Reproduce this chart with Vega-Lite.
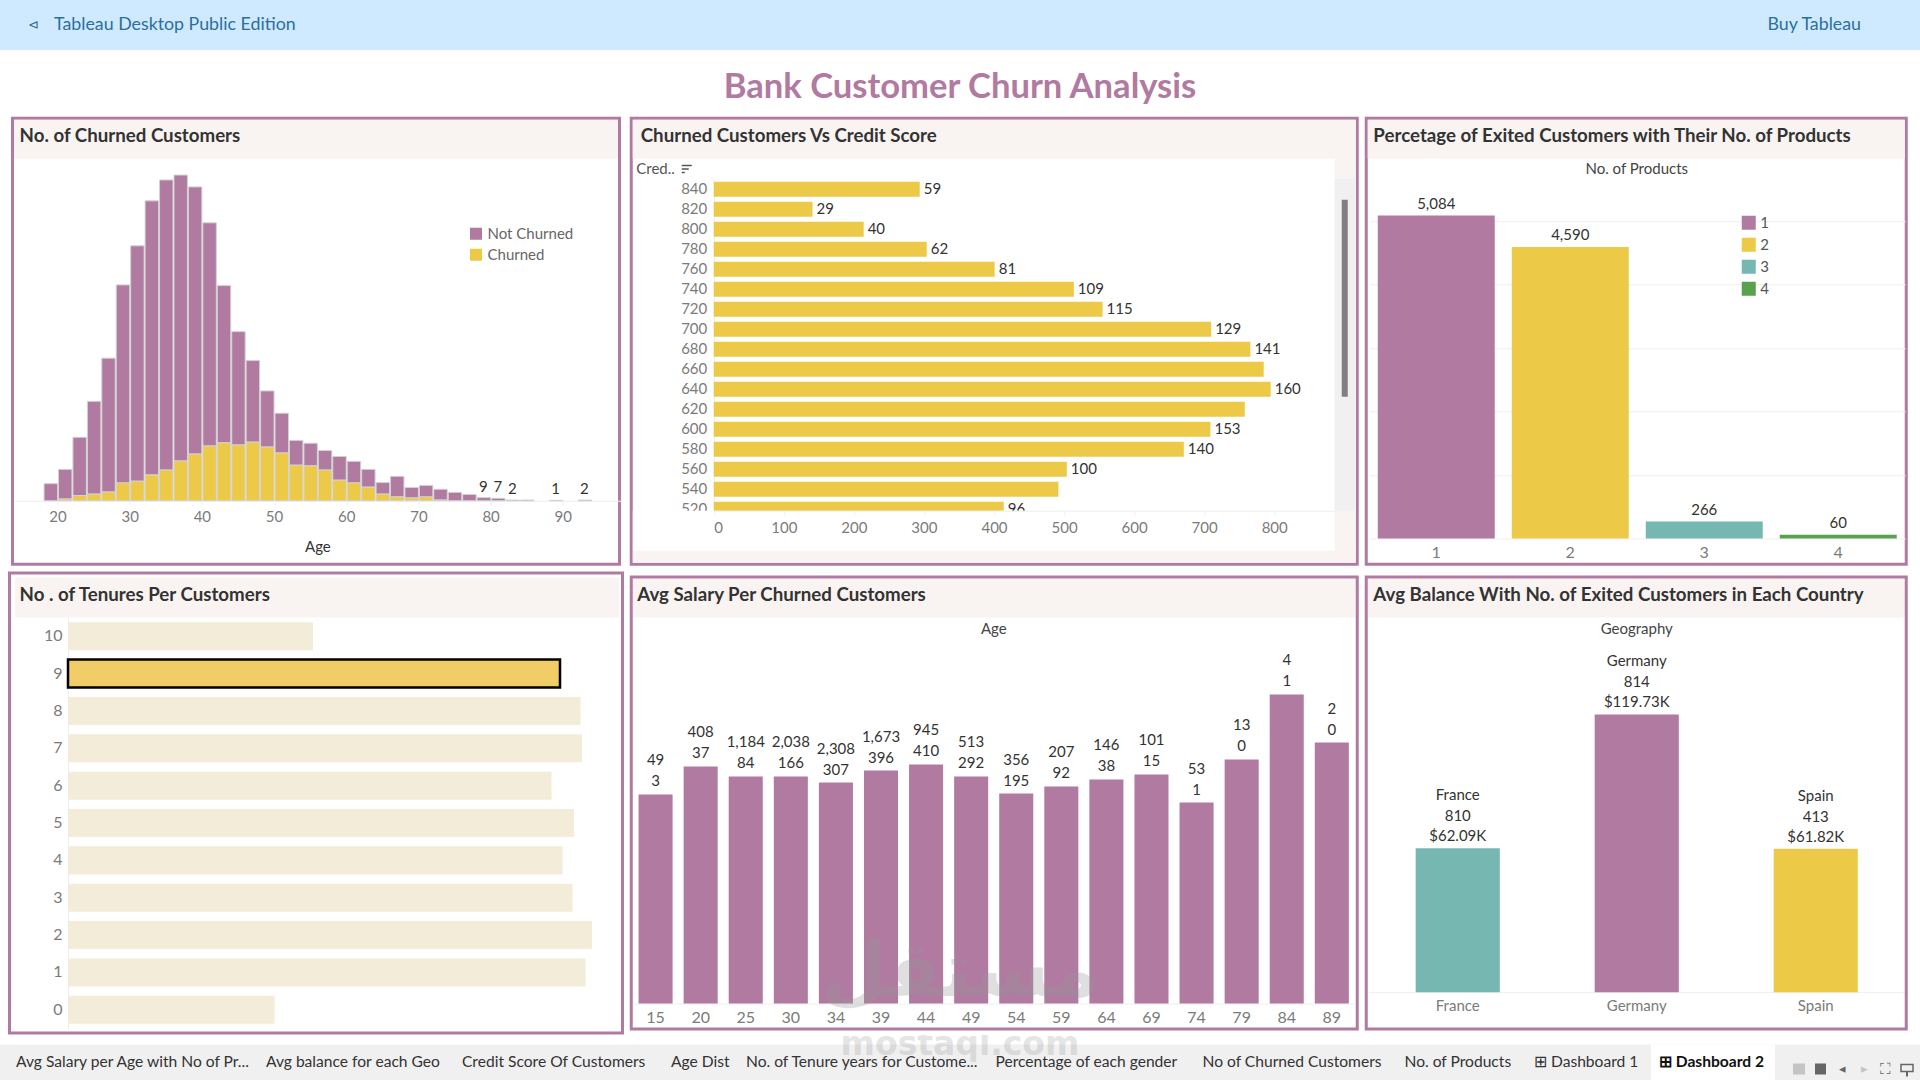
{"$schema":"https://vega.github.io/schema/vega-lite/v6.json","padding":{"left":-3.5,"top":0,"right":0,"bottom":0},"background":"white","spacing":0,"center":true,"resolve":{"scale":{"color":"independent"},"legend":{"color":"independent"}},
"config":{"font":"Lato","view":{"stroke":null},"axis":{"grid":false,"domainColor":"#eeeeee","tickColor":"#eeeeee","tickSize":4,"labelColor":"#7b7b7b","labelFontSize":15,"labelFontWeight":"normal","titleFontWeight":"normal","titleFontSize":15,"titleColor":"#333333","labelAngle":0},"text":{"fontSize":15,"color":"#333333"}},
"vconcat":[
{"width":1924,"height":115.5,"resolve":{"scale":{"x":"independent","y":"independent"}},"data":{"values":[{}]},
"layer":[
{"mark":{"type":"rect","color":"#cfe9ff"},"encoding":{"x":{"datum":-3.5,"type":"quantitative","scale":{"domain":[-3.5,1920.5],"range":[0,1924],"nice":false,"zero":false},"axis":null},"x2":{"datum":1920.5},"y":{"datum":0,"type":"quantitative","scale":{"domain":[0,115.5],"range":[0,115.5],"nice":false,"zero":false},"axis":null},"y2":{"datum":50}}},
{"mark":{"type":"text","text":"Tableau Desktop Public Edition","align":"left","baseline":"middle","fontSize":17.8,"color":"#2a6f9e"},"encoding":{"x":{"datum":54,"type":"quantitative","scale":{"domain":[-3.5,1920.5],"range":[0,1924],"nice":false,"zero":false},"axis":null},"y":{"datum":24.5,"type":"quantitative","scale":{"domain":[0,115.5],"range":[0,115.5],"nice":false,"zero":false},"axis":null}}},
{"mark":{"type":"text","text":"⊲","align":"center","baseline":"middle","fontSize":13,"color":"#2a6f9e"},"encoding":{"x":{"datum":33,"type":"quantitative","scale":{"domain":[-3.5,1920.5],"range":[0,1924],"nice":false,"zero":false},"axis":null},"y":{"datum":24.5,"type":"quantitative","scale":{"domain":[0,115.5],"range":[0,115.5],"nice":false,"zero":false},"axis":null}}},
{"mark":{"type":"text","text":"Buy Tableau","align":"right","baseline":"middle","fontSize":17.8,"color":"#2a6f9e"},"encoding":{"x":{"datum":1861,"type":"quantitative","scale":{"domain":[-3.5,1920.5],"range":[0,1924],"nice":false,"zero":false},"axis":null},"y":{"datum":24.5,"type":"quantitative","scale":{"domain":[0,115.5],"range":[0,115.5],"nice":false,"zero":false},"axis":null}}},
{"mark":{"type":"text","text":"Bank Customer Churn Analysis","align":"center","baseline":"middle","fontSize":34.6,"fontWeight":"bold","color":"#b07aa1"},"encoding":{"x":{"datum":960,"type":"quantitative","scale":{"domain":[-3.5,1920.5],"range":[0,1924],"nice":false,"zero":false},"axis":null},"y":{"datum":88,"type":"quantitative","scale":{"domain":[0,115.5],"range":[0,115.5],"nice":false,"zero":false},"axis":null}}}
]},
{"columns":3,"spacing":5,"center":true,"resolve":{"scale":{"color":"independent"},"legend":{"color":"independent"}},"concat":[
{"width":607,"height":446,"view":{"stroke":"#b07aa1","strokeWidth":3,"fill":"white"},"resolve":{"scale":{"x":"independent","y":"independent"}},"layer":[
{"layer":[
{"data":{"values":[
{"age":18,"age_end":20,"status":"Not Churned","customers":49},
{"age":20,"age_end":22,"status":"Not Churned","customers":85},{"age":20,"age_end":22,"status":"Churned","customers":5},
{"age":22,"age_end":24,"status":"Not Churned","customers":167},{"age":22,"age_end":24,"status":"Churned","customers":15},
{"age":24,"age_end":26,"status":"Not Churned","customers":266},{"age":24,"age_end":26,"status":"Churned","customers":19},
{"age":26,"age_end":28,"status":"Not Churned","customers":384},{"age":26,"age_end":28,"status":"Churned","customers":25},
{"age":28,"age_end":30,"status":"Not Churned","customers":568},{"age":28,"age_end":30,"status":"Churned","customers":51},
{"age":30,"age_end":32,"status":"Not Churned","customers":675},{"age":30,"age_end":32,"status":"Churned","customers":56},
{"age":32,"age_end":34,"status":"Not Churned","customers":786},{"age":32,"age_end":34,"status":"Churned","customers":74},
{"age":34,"age_end":36,"status":"Not Churned","customers":832},{"age":34,"age_end":36,"status":"Churned","customers":88},
{"age":36,"age_end":38,"status":"Not Churned","customers":820},{"age":36,"age_end":38,"status":"Churned","customers":114},
{"age":38,"age_end":40,"status":"Not Churned","customers":766},{"age":38,"age_end":40,"status":"Churned","customers":134},
{"age":40,"age_end":42,"status":"Not Churned","customers":640},{"age":40,"age_end":42,"status":"Churned","customers":157},
{"age":42,"age_end":44,"status":"Not Churned","customers":451},{"age":42,"age_end":44,"status":"Churned","customers":166},
{"age":44,"age_end":46,"status":"Not Churned","customers":325},{"age":44,"age_end":46,"status":"Churned","customers":160},
{"age":46,"age_end":48,"status":"Not Churned","customers":234},{"age":46,"age_end":48,"status":"Churned","customers":168},
{"age":48,"age_end":50,"status":"Not Churned","customers":161},{"age":48,"age_end":50,"status":"Churned","customers":154},
{"age":50,"age_end":52,"status":"Not Churned","customers":114},{"age":50,"age_end":52,"status":"Churned","customers":137},
{"age":52,"age_end":54,"status":"Not Churned","customers":71},{"age":52,"age_end":54,"status":"Churned","customers":102},
{"age":54,"age_end":56,"status":"Not Churned","customers":65},{"age":54,"age_end":56,"status":"Churned","customers":100},
{"age":56,"age_end":58,"status":"Not Churned","customers":56},{"age":56,"age_end":58,"status":"Churned","customers":88},
{"age":58,"age_end":60,"status":"Not Churned","customers":68},{"age":58,"age_end":60,"status":"Churned","customers":59},
{"age":60,"age_end":62,"status":"Not Churned","customers":62},{"age":60,"age_end":62,"status":"Churned","customers":51},
{"age":62,"age_end":64,"status":"Not Churned","customers":51},{"age":62,"age_end":64,"status":"Churned","customers":39},
{"age":64,"age_end":66,"status":"Not Churned","customers":33},{"age":64,"age_end":66,"status":"Churned","customers":19},
{"age":66,"age_end":68,"status":"Not Churned","customers":59},{"age":66,"age_end":68,"status":"Churned","customers":11},
{"age":68,"age_end":70,"status":"Not Churned","customers":30},{"age":68,"age_end":70,"status":"Churned","customers":8},
{"age":70,"age_end":72,"status":"Not Churned","customers":33},{"age":70,"age_end":72,"status":"Churned","customers":11},
{"age":72,"age_end":74,"status":"Not Churned","customers":31},{"age":72,"age_end":74,"status":"Churned","customers":2},
{"age":74,"age_end":76,"status":"Not Churned","customers":24},
{"age":76,"age_end":78,"status":"Not Churned","customers":18},
{"age":78,"age_end":80,"status":"Not Churned","customers":9},
{"age":80,"age_end":82,"status":"Not Churned","customers":7},
{"age":82,"age_end":84,"status":"Not Churned","customers":2},
{"age":84,"age_end":86,"status":"Not Churned","customers":2},
{"age":88,"age_end":90,"status":"Not Churned","customers":1},
{"age":92,"age_end":94,"status":"Not Churned","customers":2}
]},"mark":{"type":"bar","stroke":"#d2d2d2","strokeWidth":1},
"encoding":{"x":{"field":"age","type":"quantitative","bin":"binned","scale":{"domain":[14,98],"range":[1.7,608],"nice":false,"zero":false},"axis":{"values":[20,30,40,50,60,70,80,90],"offset":-63.5,"title":"Age","labelPadding":5,"titlePadding":15}},"x2":{"field":"age_end"},
"y":{"field":"customers","type":"quantitative","stack":"zero","scale":{"domain":[0,1000],"range":[382.5,33.8],"nice":false},"axis":null},
"order":{"field":"status","sort":"ascending"},
"color":{"field":"status","type":"nominal","scale":{"domain":["Not Churned","Churned"],"range":["#b07aa1","#edc948"]},"legend":{"orient":"none","legendX":456,"legendY":108,"title":null,"symbolType":"square","symbolSize":144,"symbolStrokeWidth":0,"labelFontSize":15,"labelColor":"#666666","rowPadding":5}}}},
{"data":{"values":[{"mid_age":79,"customers":9},{"mid_age":81,"customers":7},{"mid_age":83,"customers":2},{"mid_age":89,"customers":1},{"mid_age":93,"customers":2}]},
"mark":{"type":"text","baseline":"bottom","dy":-3},"encoding":{"x":{"field":"mid_age","type":"quantitative","axis":{"values":[20,30,40,50,60,70,80,90],"offset":-63.5,"title":"Age","labelPadding":5,"titlePadding":15}},"y":{"field":"customers","type":"quantitative","axis":null},"text":{"field":"customers","type":"quantitative"}}}
]},
{"data":{"values":[{}]},"layer":[
{"mark":{"type":"rect","color":"#f9f4f1"},"encoding":{"x":{"datum":14,"type":"quantitative","scale":{"domain":[12.5,619.5],"range":[0,607],"nice":false,"zero":false},"axis":null},"x2":{"datum":618},"y":{"datum":119,"type":"quantitative","scale":{"domain":[117.5,563.5],"range":[0,446],"nice":false,"zero":false},"axis":null},"y2":{"datum":158}}},
{"mark":{"type":"text","text":"No. of Churned Customers","align":"left","baseline":"middle","fontSize":18.7,"fontWeight":"bold","color":"#333333"},"encoding":{"x":{"datum":19.6,"type":"quantitative","axis":null},"y":{"datum":135.7,"type":"quantitative","axis":null}}}
]}
]},
{"width":726,"height":446,"view":{"stroke":"#b07aa1","strokeWidth":3,"fill":"white"},"resolve":{"scale":{"x":"independent","y":"independent"}},"layer":[
{"data":{"values":[
{"credit_score":"840","customers":294,"churned":59},{"credit_score":"820","customers":141,"churned":29},{"credit_score":"800","customers":214,"churned":40},{"credit_score":"780","customers":304,"churned":62},{"credit_score":"760","customers":401,"churned":81},{"credit_score":"740","customers":514,"churned":109},{"credit_score":"720","customers":555,"churned":115},{"credit_score":"700","customers":710,"churned":129},{"credit_score":"680","customers":766,"churned":141},{"credit_score":"660","customers":785},{"credit_score":"640","customers":795,"churned":160},{"credit_score":"620","customers":758},{"credit_score":"600","customers":709,"churned":153},{"credit_score":"580","customers":671,"churned":140},{"credit_score":"560","customers":504,"churned":100},{"credit_score":"540","customers":492},{"credit_score":"520","customers":414,"churned":96}
]},
"encoding":{"x":{"field":"customers","type":"quantitative","scale":{"domain":[0,886],"range":[82.5,703.2],"nice":false},"axis":{"values":[0,100,200,300,400,500,600,700,800],"offset":-53.5,"title":null,"zindex":1,"labelPadding":6}},
"y":{"field":"credit_score","type":"ordinal","sort":"descending","scale":{"type":"band","range":[61,401],"paddingInner":0.25,"paddingOuter":0.125},"axis":{"offset":-82.5,"title":null,"ticks":false,"labelPadding":7,"labelOverlap":false}}},
"layer":[{"mark":{"type":"bar","color":"#edc948"}},
{"transform":[{"filter":"isValid(datum.churned)"}],"mark":{"type":"text","align":"left","baseline":"middle","dx":4},"encoding":{"text":{"field":"churned","type":"quantitative"}}}]},
{"data":{"values":[{}]},"layer":[
{"mark":{"type":"rect","color":"white"},"encoding":{"x":{"datum":633,"type":"quantitative","scale":{"domain":[631.5,1357.5],"range":[0,726],"nice":false,"zero":false},"axis":null},"x2":{"datum":1335},"y":{"datum":510,"type":"quantitative","scale":{"domain":[117.5,563.5],"range":[0,446],"nice":false,"zero":false},"axis":null},"y2":{"datum":550}}},
{"mark":{"type":"rect","color":"#f9f4f1"},"encoding":{"x":{"datum":633,"type":"quantitative","axis":null},"x2":{"datum":1356},"y":{"datum":119,"type":"quantitative","axis":null},"y2":{"datum":158}}},
{"mark":{"type":"rect","color":"#f9f4f1"},"encoding":{"x":{"datum":633,"type":"quantitative","axis":null},"x2":{"datum":1356},"y":{"datum":550,"type":"quantitative","axis":null},"y2":{"datum":562}}},
{"mark":{"type":"rect","color":"#f9f4f1"},"encoding":{"x":{"datum":1335,"type":"quantitative","axis":null},"x2":{"datum":1356},"y":{"datum":158,"type":"quantitative","axis":null},"y2":{"datum":550}}},
{"mark":{"type":"rect","color":"#f0f0f0"},"encoding":{"x":{"datum":1335,"type":"quantitative","axis":null},"x2":{"datum":1356},"y":{"datum":178,"type":"quantitative","axis":null},"y2":{"datum":510}}},
{"mark":{"type":"rect","color":"#808080"},"encoding":{"x":{"datum":1342,"type":"quantitative","axis":null},"x2":{"datum":1348},"y":{"datum":199,"type":"quantitative","axis":null},"y2":{"datum":396}}},
{"mark":{"type":"rect","color":"#555555"},"encoding":{"x":{"datum":682,"type":"quantitative","axis":null},"x2":{"datum":692},"y":{"datum":164,"type":"quantitative","axis":null},"y2":{"datum":165.5}}},
{"mark":{"type":"rect","color":"#555555"},"encoding":{"x":{"datum":682,"type":"quantitative","axis":null},"x2":{"datum":689},"y":{"datum":167.5,"type":"quantitative","axis":null},"y2":{"datum":169}}},
{"mark":{"type":"rect","color":"#555555"},"encoding":{"x":{"datum":682,"type":"quantitative","axis":null},"x2":{"datum":685},"y":{"datum":171,"type":"quantitative","axis":null},"y2":{"datum":172.5}}},
{"mark":{"type":"text","text":"Cred..","align":"left","baseline":"middle","fontSize":15,"color":"#555555"},"encoding":{"x":{"datum":636.5,"type":"quantitative","axis":null},"y":{"datum":168,"type":"quantitative","axis":null}}},
{"mark":{"type":"text","text":"Churned Customers  Vs Credit Score","align":"left","baseline":"middle","fontSize":18.7,"fontWeight":"bold","color":"#333333"},"encoding":{"x":{"datum":641,"type":"quantitative","axis":null},"y":{"datum":135.7,"type":"quantitative","axis":null}}}
]}
]},
{"width":540,"height":446,"view":{"stroke":"#b07aa1","strokeWidth":3,"fill":"white"},"resolve":{"scale":{"x":"independent","y":"independent"}},"layer":[
{"data":{"values":[{"products":"1","customers":5084},{"products":"2","customers":4590},{"products":"3","customers":266},{"products":"4","customers":60}]},
"encoding":{"x":{"field":"products","type":"ordinal","scale":{"type":"band","range":[3,539],"paddingInner":0.127,"paddingOuter":0.0635},"axis":{"offset":-25.8,"title":null,"ticks":false,"labelPadding":6,"labelFontSize":16}},
"y":{"field":"customers","type":"quantitative","scale":{"domain":[0,5100],"range":[420.2,96.3],"nice":false},"axis":{"values":[1000,2000,3000,4000,5000],"grid":true,"gridColor":"#eeeeee","labels":false,"ticks":false,"domain":false,"title":null}}},
"layer":[{"mark":{"type":"bar"},"encoding":{"color":{"field":"products","type":"nominal","scale":{"domain":["1","2","3","4"],"range":["#b07aa1","#edc948","#76b7b2","#59a14f"]},"legend":{"orient":"none","legendX":375,"legendY":97,"title":null,"symbolType":"square","symbolSize":196,"symbolStrokeWidth":0,"labelFontSize":15,"labelColor":"#555555","rowPadding":6}}}},
{"mark":{"type":"text","baseline":"bottom","dy":-4},"encoding":{"text":{"field":"customers","type":"quantitative","format":","}}}]},
{"data":{"values":[{}]},"layer":[
{"mark":{"type":"rect","color":"#f9f4f1"},"encoding":{"x":{"datum":1368,"type":"quantitative","scale":{"domain":[1366.5,1906.5],"range":[0,540],"nice":false,"zero":false},"axis":null},"x2":{"datum":1905},"y":{"datum":119,"type":"quantitative","scale":{"domain":[117.5,563.5],"range":[0,446],"nice":false,"zero":false},"axis":null},"y2":{"datum":158}}},
{"mark":{"type":"text","text":"Percetage of Exited Customers with Their No. of Products","align":"left","baseline":"middle","fontSize":18.7,"fontWeight":"bold","color":"#333333"},"encoding":{"x":{"datum":1373.6,"type":"quantitative","axis":null},"y":{"datum":135.7,"type":"quantitative","axis":null}}},
{"mark":{"type":"text","text":"No. of Products","align":"center","baseline":"middle","fontSize":15,"color":"#444444"},"encoding":{"x":{"datum":1637,"type":"quantitative","axis":null},"y":{"datum":168,"type":"quantitative","axis":null}}}
]}
]},
{"width":613,"height":460,"view":{"stroke":"#b07aa1","strokeWidth":3,"fill":"white"},"resolve":{"scale":{"x":"independent","y":"independent"}},"layer":[
{"data":{"values":[{"tenure":"10","customers":490},{"tenure":"9","customers":984},{"tenure":"8","customers":1025},{"tenure":"7","customers":1028},{"tenure":"6","customers":967},{"tenure":"5","customers":1012},{"tenure":"4","customers":989},{"tenure":"3","customers":1009},{"tenure":"2","customers":1048},{"tenure":"1","customers":1035},{"tenure":"0","customers":413}]},
"mark":{"type":"bar"},
"encoding":{"x":{"field":"customers","type":"quantitative","scale":{"domain":[0,1100],"range":[58.5,608.5],"nice":false},"axis":null},
"y":{"field":"tenure","type":"ordinal","sort":null,"scale":{"type":"band","range":[44.5,455.5],"paddingInner":0.25,"paddingOuter":0.125},"axis":{"offset":-58.5,"title":null,"ticks":false,"labelPadding":6,"labelFontSize":16}},
"fill":{"condition":{"test":"datum.tenure == '9'","value":"#f0cd67"},"value":"#f3ecd9"},
"stroke":{"condition":{"test":"datum.tenure == '9'","value":"#000000"},"value":null},
"strokeWidth":{"condition":{"test":"datum.tenure == '9'","value":2.5},"value":0}}},
{"data":{"values":[{}]},"layer":[
{"mark":{"type":"rect","color":"#f9f4f1"},"encoding":{"x":{"datum":15,"type":"quantitative","scale":{"domain":[9.5,622.5],"range":[0,613],"nice":false,"zero":false},"axis":null},"x2":{"datum":619},"y":{"datum":577,"type":"quantitative","scale":{"domain":[572.5,1032.5],"range":[0,460],"nice":false,"zero":false},"axis":null},"y2":{"datum":617}}},
{"mark":{"type":"text","text":"No . of Tenures Per Customers","align":"left","baseline":"middle","fontSize":18.7,"fontWeight":"bold","color":"#333333"},"encoding":{"x":{"datum":19.6,"type":"quantitative","axis":null},"y":{"datum":594.7,"type":"quantitative","axis":null}}}
]}
]},
{"width":726,"height":460,"view":{"fill":null},"resolve":{"scale":{"x":"independent","y":"independent"}},"layer":[
{"data":{"values":[
{"age":"15","avg_salary":92000,"customers":49,"churned":3},{"age":"20","avg_salary":104300,"customers":408,"churned":37},{"age":"25","avg_salary":99900,"customers":1184,"churned":84},{"age":"30","avg_salary":99900,"customers":2038,"churned":166},{"age":"34","avg_salary":97200,"customers":2308,"churned":307},{"age":"39","avg_salary":102500,"customers":1673,"churned":396},{"age":"44","avg_salary":105200,"customers":945,"churned":410},{"age":"49","avg_salary":99900,"customers":513,"churned":292},{"age":"54","avg_salary":92400,"customers":356,"churned":195},{"age":"59","avg_salary":95500,"customers":207,"churned":92},{"age":"64","avg_salary":98600,"customers":146,"churned":38},{"age":"69","avg_salary":100800,"customers":101,"churned":15},{"age":"74","avg_salary":88400,"customers":53,"churned":1},{"age":"79","avg_salary":107400,"customers":13,"churned":0},{"age":"84","avg_salary":136000,"customers":4,"churned":1},{"age":"89","avg_salary":114800,"customers":2,"churned":0}
]},
"encoding":{"x":{"field":"age","type":"ordinal","sort":null,"scale":{"type":"band","range":[1.9,723],"paddingInner":0.245,"paddingOuter":0.12},"axis":{"offset":-29.5,"title":null,"ticks":false,"labelPadding":6,"labelFontSize":16}},
"y":{"field":"avg_salary","type":"quantitative","scale":{"domain":[0,150000],"range":[430.5,89.6],"nice":false},"axis":null}},
"layer":[{"mark":{"type":"bar","color":"#b07aa1"}},
{"mark":{"type":"text","baseline":"bottom","dy":-5},"encoding":{"text":{"field":"churned","type":"quantitative"}}},
{"mark":{"type":"text","baseline":"bottom","dy":-26},"encoding":{"text":{"field":"customers","type":"quantitative","format":","}}}]},
{"data":{"values":[{}]},"layer":[
{"mark":{"type":"rect","color":"#f9f4f1"},"encoding":{"x":{"datum":633,"type":"quantitative","scale":{"domain":[631.5,1357.5],"range":[0,726],"nice":false,"zero":false},"axis":null},"x2":{"datum":1356},"y":{"datum":578,"type":"quantitative","scale":{"domain":[572.5,1032.5],"range":[0,460],"nice":false,"zero":false},"axis":null},"y2":{"datum":617}}},
{"mark":{"type":"rect","filled":false,"stroke":"#b07aa1","strokeWidth":3},"encoding":{"x":{"datum":631.5,"type":"quantitative","axis":null},"x2":{"datum":1357.5},"y":{"datum":576.5,"type":"quantitative","axis":null},"y2":{"datum":1028.5}}},
{"mark":{"type":"text","text":"Avg Salary Per Churned Customers","align":"left","baseline":"middle","fontSize":18.7,"fontWeight":"bold","color":"#333333"},"encoding":{"x":{"datum":637.5,"type":"quantitative","axis":null},"y":{"datum":594.7,"type":"quantitative","axis":null}}},
{"mark":{"type":"text","text":"Age","align":"center","baseline":"middle","fontSize":15,"color":"#444444"},"encoding":{"x":{"datum":994,"type":"quantitative","axis":null},"y":{"datum":628,"type":"quantitative","axis":null}}},
{"mark":{"type":"text","text":"مستقل","clip":true,"align":"center","baseline":"middle","fontSize":76,"font":"DejaVu Sans","fontWeight":"bold","color":"#999999","opacity":0.3},"encoding":{"x":{"datum":960,"type":"quantitative","axis":null},"y":{"datum":972,"type":"quantitative","axis":null}}}
]}
]},
{"width":540,"height":460,"view":{"fill":null},"resolve":{"scale":{"x":"independent","y":"independent"}},"layer":[
{"data":{"values":[{"geography":"France","customers":810,"avg_balance":62090,"balance_label":"$62.09K"},{"geography":"Germany","customers":814,"avg_balance":119730,"balance_label":"$119.73K"},{"geography":"Spain","customers":413,"avg_balance":61820,"balance_label":"$61.82K"}]},
"encoding":{"x":{"field":"geography","type":"nominal","scale":{"type":"band","range":[2,539],"paddingInner":0.53,"paddingOuter":0.265},"axis":{"offset":-40.8,"title":null,"ticks":false,"labelPadding":6}},
"y":{"field":"avg_balance","type":"quantitative","scale":{"domain":[0,150000],"range":[419.2,71.2],"nice":false},"axis":null}},
"layer":[{"mark":{"type":"bar"},"encoding":{"color":{"field":"geography","type":"nominal","scale":{"domain":["France","Germany","Spain"],"range":["#76b7b2","#b07aa1","#edc948"]},"legend":null}}},
{"mark":{"type":"text","baseline":"bottom","dy":-4},"encoding":{"text":{"field":"balance_label","type":"nominal"}}},
{"mark":{"type":"text","baseline":"bottom","dy":-24},"encoding":{"text":{"field":"customers","type":"quantitative"}}},
{"mark":{"type":"text","baseline":"bottom","dy":-45},"encoding":{"text":{"field":"geography","type":"nominal"}}}]},
{"data":{"values":[{}]},"layer":[
{"mark":{"type":"rect","color":"#f9f4f1"},"encoding":{"x":{"datum":1368,"type":"quantitative","scale":{"domain":[1366.5,1906.5],"range":[0,540],"nice":false,"zero":false},"axis":null},"x2":{"datum":1905},"y":{"datum":578,"type":"quantitative","scale":{"domain":[572.5,1032.5],"range":[0,460],"nice":false,"zero":false},"axis":null},"y2":{"datum":617}}},
{"mark":{"type":"rect","filled":false,"stroke":"#b07aa1","strokeWidth":3},"encoding":{"x":{"datum":1366.5,"type":"quantitative","axis":null},"x2":{"datum":1906.5},"y":{"datum":576.5,"type":"quantitative","axis":null},"y2":{"datum":1028.5}}},
{"mark":{"type":"text","text":"Avg Balance With No. of Exited Customers in Each Country","align":"left","baseline":"middle","fontSize":18.7,"fontWeight":"bold","color":"#333333"},"encoding":{"x":{"datum":1373.6,"type":"quantitative","axis":null},"y":{"datum":594.7,"type":"quantitative","axis":null}}},
{"mark":{"type":"text","text":"Geography","align":"center","baseline":"middle","fontSize":15,"color":"#444444"},"encoding":{"x":{"datum":1637,"type":"quantitative","axis":null},"y":{"datum":628,"type":"quantitative","axis":null}}}
]}
]}
]},
{"width":1924,"height":46.5,"resolve":{"scale":{"x":"independent","y":"independent"}},
"layer":[
{"data":{"values":[{}]},"layer":[
{"mark":{"type":"rect","color":"#f0f0f0"},"encoding":{"x":{"datum":-3.5,"type":"quantitative","scale":{"domain":[-3.5,1920.5],"range":[0,1924],"nice":false,"zero":false},"axis":null},"x2":{"datum":1920.5},"y":{"datum":1043,"type":"quantitative","scale":{"domain":[1033.5,1080],"range":[0,46.5],"nice":false,"zero":false},"axis":null},"y2":{"datum":1080}}},
{"mark":{"type":"rect","color":"white"},"encoding":{"x":{"datum":1651,"type":"quantitative","axis":null},"x2":{"datum":1775},"y":{"datum":1043,"type":"quantitative","axis":null},"y2":{"datum":1080}}},
{"mark":{"type":"rect","color":"#c4c4c4"},"encoding":{"x":{"datum":1793,"type":"quantitative","axis":null},"x2":{"datum":1805},"y":{"datum":1062,"type":"quantitative","axis":null},"y2":{"datum":1073}}},
{"mark":{"type":"rect","color":"#666666"},"encoding":{"x":{"datum":1815,"type":"quantitative","axis":null},"x2":{"datum":1826},"y":{"datum":1062,"type":"quantitative","axis":null},"y2":{"datum":1073}}},
{"mark":{"type":"text","text":"◂","fontSize":13,"color":"#666666","baseline":"middle"},"encoding":{"x":{"datum":1842,"type":"quantitative","axis":null},"y":{"datum":1067,"type":"quantitative","axis":null}}},
{"mark":{"type":"text","text":"▸","fontSize":13,"color":"#c4c4c4","baseline":"middle"},"encoding":{"x":{"datum":1864,"type":"quantitative","axis":null},"y":{"datum":1067,"type":"quantitative","axis":null}}},
{"mark":{"type":"text","text":"⛶","fontSize":15,"color":"#666666","baseline":"middle"},"encoding":{"x":{"datum":1885,"type":"quantitative","axis":null},"y":{"datum":1067,"type":"quantitative","axis":null}}},
{"mark":{"type":"rect","filled":false,"stroke":"#666666","strokeWidth":1.5},"encoding":{"x":{"datum":1901,"type":"quantitative","axis":null},"x2":{"datum":1913},"y":{"datum":1063,"type":"quantitative","axis":null},"y2":{"datum":1070}}},
{"mark":{"type":"rect","color":"#666666"},"encoding":{"x":{"datum":1906,"type":"quantitative","axis":null},"x2":{"datum":1908},"y":{"datum":1070,"type":"quantitative","axis":null},"y2":{"datum":1075}}},
{"mark":{"type":"text","text":"mostaql.com","clip":true,"align":"center","baseline":"middle","fontSize":33,"font":"DejaVu Sans","fontWeight":"bold","color":"#999999","opacity":0.25},"encoding":{"x":{"datum":960,"type":"quantitative","axis":null},"y":{"datum":1043,"type":"quantitative","axis":null}}}
]},
{"data":{"values":[{"tab":"Avg Salary per Age with No of Pr...","tab_order":1},{"tab":"Avg balance for each Geo","tab_order":2},{"tab":"Credit Score Of Customers","tab_order":3},{"tab":"Age Dist","tab_order":4},{"tab":"No. of Tenure years for Custome...","tab_order":5},{"tab":"Percentage of each gender","tab_order":6},{"tab":"No of Churned Customers","tab_order":7},{"tab":"No. of Products","tab_order":8},{"tab":"⊞ Dashboard 1","tab_order":9},{"tab":"⊞ Dashboard 2","tab_order":10}]},
"layer":[
{"mark":{"type":"text","align":"left","baseline":"middle","fontSize":15.6},"transform":[{"filter":"datum.tab_order < 10"}],"encoding":{"x":{"field":"tab_order","type":"quantitative","scale":{"domain":[1,2,3,4,5,6,7,8,9,10],"range":[19.5,269.5,465.5,674.5,749.5,999,1206,1408,1537.5,1662.5],"nice":false,"zero":false},"axis":null},"y":{"datum":1060,"type":"quantitative","scale":{"domain":[1033.5,1080],"range":[0,46.5],"nice":false,"zero":false},"axis":null},"text":{"field":"tab","type":"nominal"}}},
{"mark":{"type":"text","align":"left","baseline":"middle","fontSize":15.6,"fontWeight":"bold","color":"#111111"},"transform":[{"filter":"datum.tab_order == 10"}],"encoding":{"x":{"field":"tab_order","type":"quantitative","axis":null},"y":{"datum":1060,"type":"quantitative","axis":null},"text":{"field":"tab","type":"nominal"}}}
]}
]}
]}
